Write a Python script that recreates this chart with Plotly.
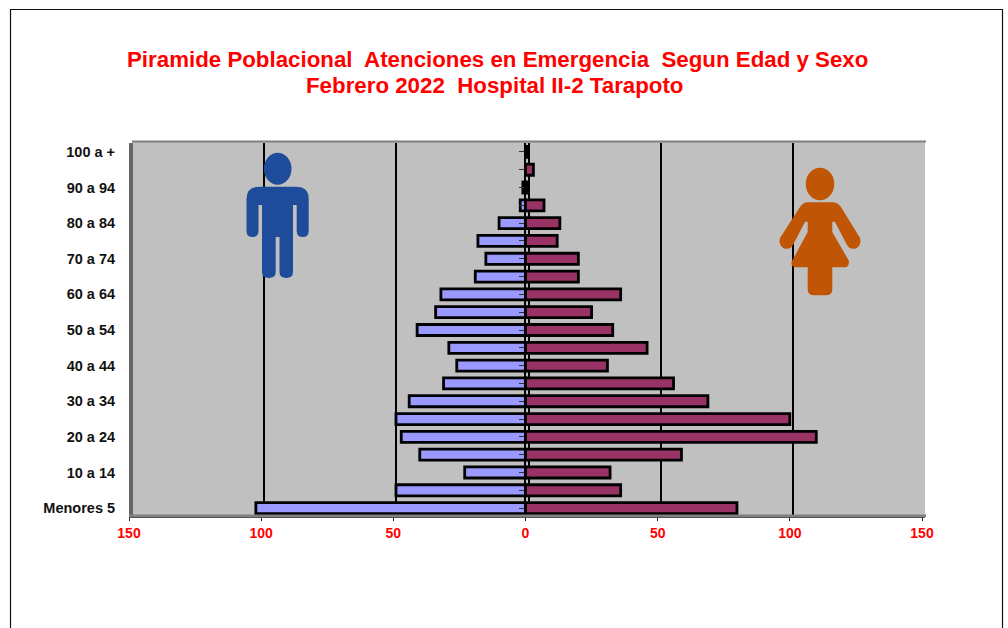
import plotly.graph_objects as go

categories = ["Menores 5", "5 a 9", "10 a 14", "15 a 19", "20 a 24", "25 a 29", "30 a 34",
              "35 a 39", "40 a 44", "45 a 49", "50 a 54", "55 a 59", "60 a 64", "65 a 69",
              "70 a 74", "75 a 79", "80 a 84", "85 a 89", "90 a 94", "95 a 99", "100 a +"]
hombres = [102, 49, 23, 40, 47, 49, 44, 31, 26, 29, 41, 34, 32, 19, 15, 18, 10, 2, 1, 0, 0]
mujeres = [80, 36, 32, 59, 110, 100, 69, 56, 31, 46, 33, 25, 36, 20, 20, 12, 13, 7, 1, 3, 1]
x_ticks = [-150, -100, -50, 0, 50, 100, 150]
x_labels = ["150", "100", "50", "0", "50", "100", "150"]
title_line_1 = "Piramide Poblacional  Atenciones en Emergencia  Segun Edad y Sexo"
title_line_2 = "Febrero 2022  Hospital II-2 Tarapoto"

W, H = 1008, 628
L, R, T, B = 129, 925, 143, 517
DEPTH = 3 * 300 / 793  # 3 px of the fake 3D depth, expressed in axis units
FONT = "Liberation Sans, Arial, sans-serif"


def px(x):
    return (x - L) / (R - L)


def py(y):
    return (B - y) / (B - T)


def path(cmds):
    out = []
    for c in cmds:
        pts = c[1:]
        out.append(c[0] + " " + " ".join(f"{px(pts[i]):.5f},{py(pts[i + 1]):.5f}" for i in range(0, len(pts), 2)))
    return " ".join(out) + " Z"


def rect(x0, y0, x1, y1, fill, layer="above"):
    return dict(type="rect", xref="paper", yref="paper", x0=px(x0), x1=px(x1), y0=py(y0), y1=py(y1),
                fillcolor=fill, line=dict(width=0), layer=layer)


def ellipse(cx, cy, rx, ry, fill):
    return dict(type="circle", xref="paper", yref="paper", x0=px(cx - rx), x1=px(cx + rx),
                y0=py(cy + ry), y1=py(cy - ry), fillcolor=fill, line=dict(width=0))


def title_note(text, x, y):
    return dict(text=text, xref="paper", yref="paper", x=px(x), y=py(y), xanchor="center",
                yanchor="middle", showarrow=False, align="center",
                font=dict(family=FONT, size=22.3, color="#FF0000", weight="bold"))


MAN = "#1F4C9A"
WOMAN = "#C05505"
man = [("M", 246.5, 199), ("Q", 246.5, 186.7, 259, 186.7), ("L", 296, 186.7), ("Q", 308.7, 186.7, 308.7, 199),
       ("L", 308.7, 231), ("Q", 308.7, 237, 302.7, 237), ("Q", 296.7, 237, 296.7, 231), ("L", 296.7, 205),
       ("L", 293, 205), ("L", 293, 272), ("Q", 293, 278, 286.2, 278), ("Q", 279.5, 278, 279.5, 272),
       ("L", 279.5, 237), ("L", 275.7, 237), ("L", 275.7, 272), ("Q", 275.7, 278, 268.8, 278),
       ("Q", 262, 278, 262, 272), ("L", 262, 205), ("L", 258.5, 205), ("L", 258.5, 231),
       ("Q", 258.5, 237, 252.5, 237), ("Q", 246.5, 237, 246.5, 231)]
woman = [("M", 800, 207), ("Q", 803, 202.3, 808, 202.3), ("L", 832, 202.3), ("Q", 838, 202.3, 841, 207),
         ("L", 860, 238), ("Q", 862, 245, 856, 248.5), ("Q", 850, 250, 847, 245), ("L", 835, 222),
         ("Q", 833, 221, 832.3, 222), ("L", 832.3, 232), ("L", 849, 261), ("Q", 849, 267.3, 845, 267.3),
         ("L", 832.3, 267.3), ("L", 832.3, 289), ("Q", 832.3, 295.3, 826, 295.3), ("L", 814, 295.3),
         ("Q", 807.7, 295.3, 807.7, 289), ("L", 807.7, 267.3), ("L", 795, 267.3), ("Q", 790, 266, 792, 261),
         ("L", 807.7, 232), ("L", 807.7, 222), ("Q", 807, 221, 805, 222), ("L", 793, 245),
         ("Q", 790, 250, 784, 248.5), ("Q", 778, 245, 780, 238)]

shapes = [
    rect(132, 141, 925, 516, "#C0C0C0", "below"),
    rect(129, 143, 133, 517, "#666666"),
    rect(132, 140.5, 926, 142.5, "#808080"),
    rect(129, 514.5, 926, 517, "#808080"),
    dict(type="rect", xref="paper", yref="paper", x0=px(10.5), x1=px(1002.5), y0=py(700), y1=py(9.5),
         line=dict(color="#111111", width=1.2), fillcolor="rgba(0,0,0,0)", layer="below"),
    ellipse(277.7, 168.7, 13.8, 16, MAN),
    dict(type="path", xref="paper", yref="paper", path=path(man), fillcolor=MAN, line=dict(width=0)),
    ellipse(820, 184, 14.3, 16.3, WOMAN),
    dict(type="path", xref="paper", yref="paper", path=path(woman), fillcolor=WOMAN, line=dict(width=0)),
]

fig = go.Figure()
# base subplot: back wall gridlines and category labels; bars sit on the overlaying subplot
fig.add_trace(go.Scatter(x=[0] * len(categories), y=categories, xaxis="x", yaxis="y", mode="none",
                         showlegend=False, hoverinfo="skip"))
fig.add_trace(go.Bar(y=categories, x=[-v for v in hombres], orientation="h", name="Hombres", width=0.62,
                     xaxis="x2", yaxis="y2",
                     marker=dict(color="#9999FF", line=dict(color="#000000", width=2.8))))
fig.add_trace(go.Bar(y=categories, x=mujeres, orientation="h", name="Mujeres", width=0.62,
                     xaxis="x2", yaxis="y2",
                     marker=dict(color="#993366", line=dict(color="#000000", width=2.8))))

fig.update_layout(
    width=W, height=H, autosize=False,
    margin=dict(l=L, r=W - R, t=T, b=H - B, pad=0),
    paper_bgcolor="#FFFFFF", plot_bgcolor="rgba(0,0,0,0)",
    barmode="overlay", showlegend=False, shapes=shapes,
    annotations=[title_note(title_line_1, 497.5, 59.5), title_note(title_line_2, 495, 85.5)],
    xaxis=dict(range=[-150 - DEPTH, 150], tickvals=x_ticks, showticklabels=False,
               showgrid=True, gridcolor="#000000", gridwidth=1.6, zeroline=False, ticks=""),
    xaxis2=dict(range=[-150, 150 + DEPTH], tickvals=x_ticks, ticktext=x_labels,
                showgrid=False, zeroline=False, showline=True, linecolor="#555555", linewidth=1,
                anchor="y2", overlaying="x", side="bottom", ticks="outside", ticklen=3, tickcolor="#222222",
                tickfont=dict(family=FONT, size=14, color="#FF0000", weight="bold")),
    yaxis=dict(type="category", categoryorder="array", categoryarray=categories, range=[-0.5, 20.5], dtick=2,
               showgrid=False, zeroline=False, showline=False, ticks="outside", ticklen=10,
               tickcolor="rgba(0,0,0,0)", tickfont=dict(family=FONT, size=14.5, color="#111111", weight="bold")),
    yaxis2=dict(type="category", categoryorder="array", categoryarray=categories, range=[-0.5, 20.5], dtick=1,
                overlaying="y", anchor="free", position=(525 - L) / (R - L), side="left",
                showgrid=False, zeroline=False, showline=True, linecolor="#000000", linewidth=1.5,
                ticks="outside", ticklen=5, tickcolor="#333333", showticklabels=False),
)
fig.write_html("out.html", config={"displayModeBar": False}, post_script="document.body.style.margin='0';")
